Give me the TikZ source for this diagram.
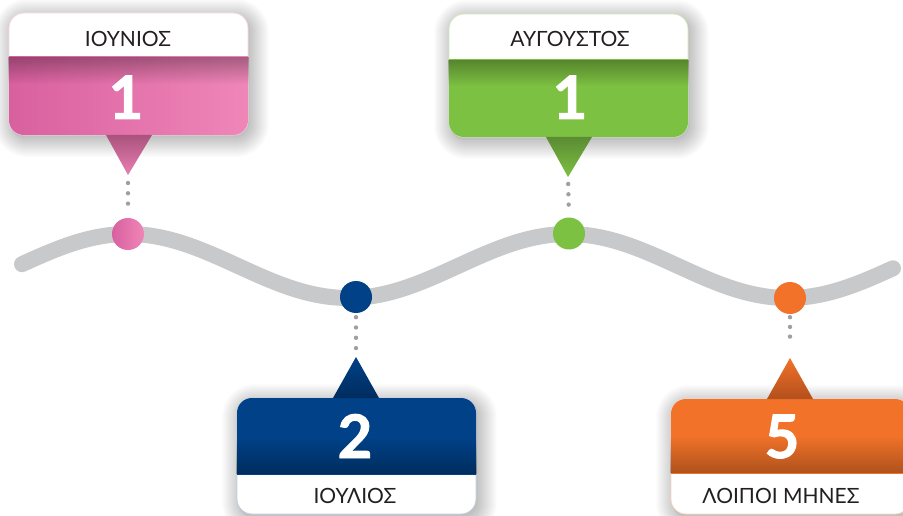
\documentclass[tikz,border=0pt]{standalone}
\usepackage{fontspec}
\newfontfamily\lbl{Lato}
\newfontfamily\numfont{Lato}[BoldFeatures={FakeBold=1.6}]
\usetikzlibrary{fadings}
\definecolor{bandgray}{HTML}{C8C9CB}
\definecolor{dotgray}{HTML}{A0A0A0}
\definecolor{txt}{HTML}{231F20}
\definecolor{pinkL}{HTML}{D9609F}
\definecolor{pinkR}{HTML}{EF86B8}
\definecolor{pinkT}{HTML}{A9537D}
\definecolor{greenM}{HTML}{7DC142}
\definecolor{greenT}{HTML}{5B8B33}
\definecolor{blueM}{HTML}{004187}
\definecolor{blueD}{HTML}{002D5E}
\definecolor{orangeM}{HTML}{F27229}
\definecolor{orangeD}{HTML}{B2501D}
\tikzfading[name=darktop, top color=transparent!0, bottom color=transparent!100]
\tikzfading[name=darkbottom, top color=transparent!100, bottom color=transparent!0]
\newcommand\mysoftshadow[4]{%
  \foreach \i in {1,...,18}{%
    \pgfmathsetmacro\rc{15+\i}%
    \fill[black, fill opacity=0.011, rounded corners=\rc pt] (#1+3-\i,#2+4-\i) rectangle (#3+3+\i,#4+4+\i);
  }%
  \fill[black, fill opacity=0.04, rounded corners=15pt] (#1+1,#2+2) rectangle (#3+2,#4+3);
}
\begin{document}
\begin{tikzpicture}[x=1pt,y=-1pt,
  band/.style={draw=bandgray, line width=16pt, line cap=round},
  dotsty/.style={draw=dotgray, line width=4.4pt, line cap=round, dash pattern=on 0pt off 10.3pt},
  whitebox/.style={fill=white, rounded corners=15pt, line width=0.8pt},
  marker/.style={circle, minimum size=32pt, inner sep=0pt},
  lab/.style={text=txt, font=\lbl\fontsize{21}{21}\selectfont, anchor=base, inner sep=0pt},
  num/.style={text=white, font=\numfont\bfseries\fontsize{60}{60}\selectfont, anchor=base, inner sep=0pt}]
\useasboundingbox (0,0) rectangle (903,516);
\fill[white] (0,0) rectangle (903,516);

% wave
\draw[band] plot[domain=22:893, samples=240] (\x, {266-32*cos(0.818182*(\x-128))});

% ---------- pink (top left)
\mysoftshadow{9}{13}{248}{135}
\filldraw[whitebox, draw=pinkR!35] (9,13) rectangle (248,135);
\begin{scope}
  \clip (8,57) rectangle (249,137);
  \shade[left color=pinkL, right color=pinkR, rounded corners=15pt] (9,13) rectangle (248,135);
  \fill[black, fill opacity=.3, path fading=darktop] (8,57) rectangle (249,84);
\end{scope}
\shade[top color=pinkT, bottom color=pinkR!80!pinkL] (106,135) -- (152,135) -- (128,175) -- cycle;
\coordinate (pinkTip) at (128,175);
\node[marker, left color=pinkL, right color=pinkR] (pinkDot) at (128,234) {};
\draw[dotsty, shorten <=8pt, shorten >=4pt] (pinkTip) -- (pinkDot.north);
\node[lab] (pinkLab) at (128,47) {ΙΟΥΝΙΟΣ};
\node[num] (pinkNum) at (126,119) {1};

% ---------- green (top middle)
\mysoftshadow{449}{14}{688}{137}
\filldraw[whitebox, draw=greenM!35] (449,14) rectangle (688,137);
\begin{scope}
  \clip (448,60) rectangle (689,139);
  \fill[greenM, rounded corners=15pt] (449,14) rectangle (688,137);
  \fill[black, fill opacity=.3, path fading=darktop] (448,60) rectangle (689,86);
\end{scope}
\shade[top color=greenT, bottom color=greenM] (546,137) -- (592,137) -- (568,177) -- cycle;
\coordinate (greenTip) at (568,177);
\node[marker, fill=greenM] (greenDot) at (569,233.5) {};
\draw[dotsty, shorten <=7pt, shorten >=3pt] (greenTip) -- (greenDot.north);
\node[lab] (greenLab) at (570,47) {ΑΥΓΟΥΣΤΟΣ};
\node[num] (greenNum) at (570,119) {1};

% ---------- blue (bottom middle)
\mysoftshadow{237}{398}{476}{514}
\filldraw[whitebox, draw=blueM!25] (237,398) rectangle (476,514);
\begin{scope}
  \clip (236,396) rectangle (477,474);
  \fill[blueM, rounded corners=15pt] (237,398) rectangle (476,514);
  \fill[black, fill opacity=.3, path fading=darkbottom] (236,438) rectangle (477,474);
\end{scope}
\shade[top color=blueM, bottom color=blueD] (333,398) -- (379,398) -- (356,357) -- cycle;
\coordinate (blueTip) at (356,357);
\node[marker, fill=blueM] (blueDot) at (356,297) {};
\draw[dotsty, shorten <=4pt, shorten >=8pt] (blueDot.south) -- (blueTip);
\node[num] (blueNum) at (355,458) {2};
\node[lab] (blueLab) at (355,503) {ΙΟΥΛΙΟΣ};

% ---------- orange (bottom right)
\mysoftshadow{671}{399}{910}{514}
\filldraw[whitebox, draw=orangeM!30] (671,399) rectangle (910,514);
\begin{scope}
  \clip (670,397) rectangle (911,473);
  \fill[orangeM, rounded corners=15pt] (671,399) rectangle (910,514);
  \fill[black, fill opacity=.28, path fading=darkbottom] (670,436) rectangle (911,473);
\end{scope}
\shade[top color=orangeM, bottom color=orangeD] (767,399) -- (813,399) -- (790,358) -- cycle;
\coordinate (orangeTip) at (790,358);
\node[marker, fill=orangeM] (orangeDot) at (790,298) {};
\draw[dotsty, dash pattern=on 0pt off 9.7pt, shorten <=3pt, shorten >=12pt] (orangeDot.south) -- (orangeTip);
\node[num] (orangeNum) at (782,458) {5};
\node[lab] (orangeLab) at (781,503) {ΛΟΙΠΟΙ ΜΗΝΕΣ};
\end{tikzpicture}
\end{document}
